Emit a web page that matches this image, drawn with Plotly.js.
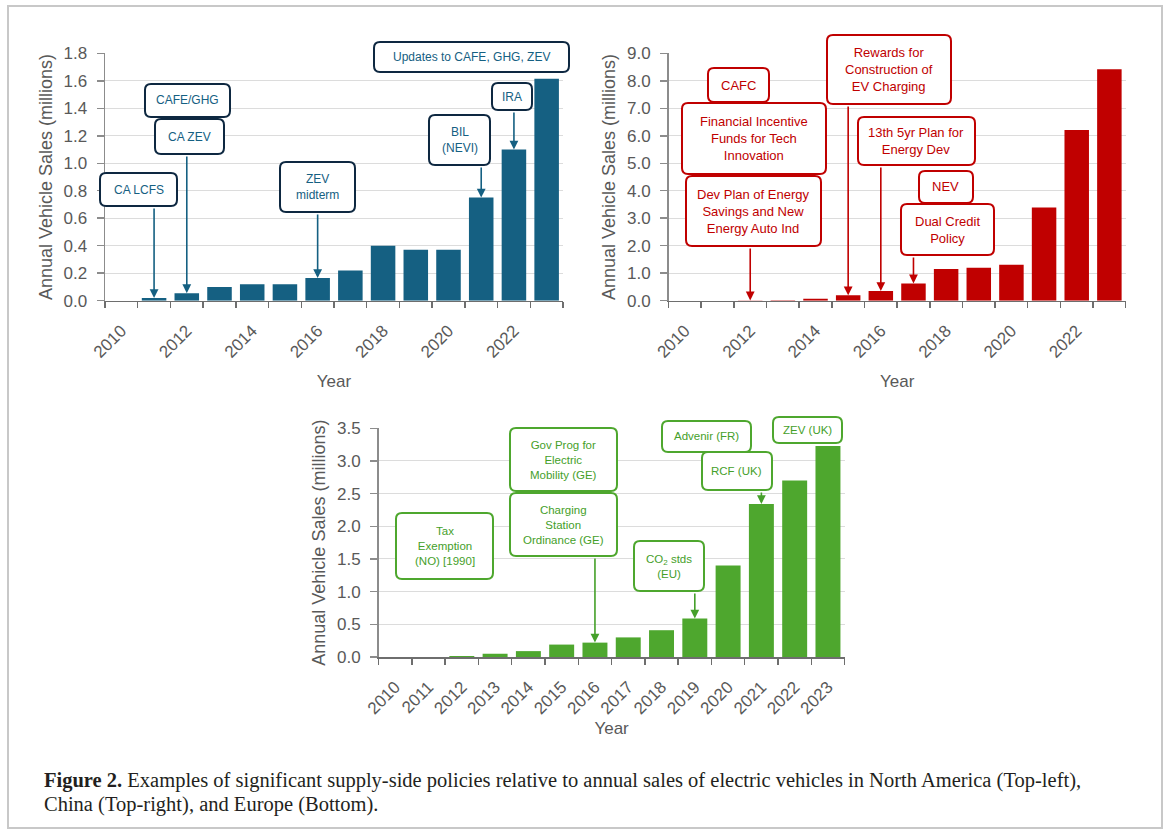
<!DOCTYPE html>
<html><head><meta charset="utf-8">
<script src="https://cdn.plot.ly/plotly-3.0.1.min.js"></script>
<style>html,body{margin:0;padding:0;background:#fff}#chart{width:1168px;height:834px}</style>
</head><body><div id="chart"></div>
<script>
// ---------------- DATA ----------------
const years = [2010,2011,2012,2013,2014,2015,2016,2017,2018,2019,2020,2021,2022,2023];
const usSales     = [0, 0.02, 0.055, 0.10, 0.12, 0.12, 0.165, 0.22, 0.40, 0.37, 0.37, 0.75, 1.10, 1.615];
const chinaSales  = [0, 0, 0.01, 0.02, 0.07, 0.20, 0.35, 0.63, 1.15, 1.20, 1.31, 3.39, 6.21, 8.42];
const europeSales = [0, 0, 0.015, 0.05, 0.09, 0.19, 0.22, 0.30, 0.41, 0.59, 1.40, 2.34, 2.70, 3.23];

const usPolicies = ["CA LCFS","CAFE/GHG","CA ZEV","ZEV<br>midterm","BIL<br>(NEVI)","IRA","Updates to CAFE, GHG, ZEV"];
const usPolicyYears = [2011, null, 2012, 2016, 2021, 2022, null];
const chinaPolicies = ["CAFC","Financial Incentive<br>Funds for Tech<br>Innovation","Dev Plan of Energy<br>Savings and New<br>Energy Auto Ind","Rewards for<br>Construction of<br>EV Charging","13th 5yr Plan for<br>Energy Dev","NEV","Dual Credit<br>Policy"];
const chinaPolicyYears = [null, null, 2012, 2015, 2016, null, 2017];
const europePolicies = ["Tax<br>Exemption<br>(NO) [1990]","Gov Prog for<br>Electric<br>Mobility (GE)","Charging<br>Station<br>Ordinance (GE)","CO<sub>2</sub> stds<br>(EU)","Advenir (FR)","RCF (UK)","ZEV (UK)"];
const europePolicyYears = [null, null, 2016, 2019, null, 2021, null];

const yTitle = "Annual Vehicle Sales (millions)";
const xTitle = "Year";
const captionLines = ["<b>Figure 2.</b> Examples of significant supply-side policies relative to annual sales of electric vehicles in North America (Top-left),",
                      "China (Top-right), and Europe (Bottom)."];

// ---------------- LAYOUT HELPERS ----------------
const W = 1168, H = 834;
const FONT = "Liberation Sans, Arial, sans-serif";
const GRAY = "#595959";

// plot areas in pixels
const panels = [
  {key:'', px:[105,563], py:[300.7,53.3], ymax:1.8, dy:0.2, dtick:2, bar:'#156082', text:'#156082', border:'#0E2841', fs:12, xstand:14,
   sales:usSales, names:usPolicies, pyears:usPolicyYears,
   boxes:[[100,173,177,206],[145,84,230,117],[155,119,224,154],[280,162,355,212],[429,115,490,165],[492,83,532,110],[374,42,569,72]]},
  {key:'2', px:[668.6,1125.7], py:[300.7,53.3], ymax:9, dy:1, dtick:2, bar:'#C00000', text:'#C00000', border:'#C00000', fs:13, xstand:14,
   sales:chinaSales, names:chinaPolicies, pyears:chinaPolicyYears,
   boxes:[[708,68,769,102],[682,103,826,174],[686,176,821,246],[827,35,951,104],[858,117,975,165],[919,171,973,203],[901,204,994,255]]},
  {key:'3', px:[378.6,844.6], py:[657,428.3], ymax:3.5, dy:0.5, dtick:1, bar:'#4EA72E', text:'#45a02a', border:'#4EA72E', fs:11.5, xstand:5,
   sales:europeSales, names:europePolicies, pyears:europePolicyYears,
   boxes:[[396,513,493,579],[510,428,617,491],[510,493,617,556],[634,541,704,591],[662,421,751,452],[702,452,772,490],[773,417,842,443]]}
];

const X = p => +(p/W).toFixed(5);
const Y = p => +(1 - p/H).toFixed(5);

function roundRect(b, r, color, w){
  const [x0,y0,x1,y1] = b;
  const P = (a,c)=> X(a)+','+Y(c);
  const path = 'M '+P(x0+r,y0)+' L '+P(x1-r,y0)+' Q '+P(x1,y0)+' '+P(x1,y0+r)+
    ' L '+P(x1,y1-r)+' Q '+P(x1,y1)+' '+P(x1-r,y1)+' L '+P(x0+r,y1)+' Q '+P(x0,y1)+' '+P(x0,y1-r)+
    ' L '+P(x0,y0+r)+' Q '+P(x0,y0)+' '+P(x0+r,y0)+' Z';
  return {type:'path', xref:'paper', yref:'paper', path, fillcolor:'#ffffff', line:{color, width:w}, layer:'above'};
}

const traces = [], shapes = [], annotations = [];
const layout = {width:W, height:H, margin:{l:0,r:0,t:0,b:0}, showlegend:false,
  paper_bgcolor:'#fff', plot_bgcolor:'#fff', font:{family:FONT, color:GRAY}};

panels.forEach(p => {
  const xa = 'x'+p.key, ya = 'y'+p.key;
  const pxToVal = py => (p.py[0]-py)/(p.py[0]-p.py[1])*p.ymax;
  const pxToYear = px => 2009.5 + (px-p.px[0])/(p.px[1]-p.px[0])*14;
  traces.push({type:'bar', x:years, y:p.sales, xaxis:xa, yaxis:ya, width:0.75,
    marker:{color:p.bar, line:{width:0}}, hoverinfo:'skip'});
  layout['xaxis'+p.key] = {
    domain:[X(p.px[0]), X(p.px[1])], anchor:ya, range:[2009.5,2023.5],
    tickmode:'linear', tick0:2010, dtick:p.dtick, tickangle:-45, ticks:'', ticklabelstandoff:12,
    tickfont:{family:FONT, size:17, color:GRAY},
    showline:true, linecolor:'#6e6e6e', linewidth:1.5, showgrid:false, zeroline:false,
    minor:{tickmode:'linear', tick0:2009.5, dtick:1, ticks:'outside', ticklen:6, tickwidth:1.5, tickcolor:'#6e6e6e', showgrid:false},
    title:{text:xTitle, font:{family:FONT, size:17, color:GRAY}, standoff:p.xstand}, fixedrange:true
  };
  layout['yaxis'+p.key] = {
    domain:[Y(p.py[0]), Y(p.py[1])], anchor:xa, range:[0,p.ymax],
    tickmode:'linear', tick0:0, dtick:p.dy, tickformat:'.1f',
    ticks:'outside', ticklen:7, tickwidth:1.5, tickcolor:'#8c8c8c', ticklabelstandoff:6,
    tickfont:{family:FONT, size:17, color:GRAY},
    showline:true, linecolor:'#8c8c8c', linewidth:1.5, showgrid:true, gridcolor:'#dcdcdc', gridwidth:1, zeroline:false,
    title:{text:yTitle, font:{family:FONT, size:18, color:GRAY}, standoff:6}, fixedrange:true
  };
  p.boxes.forEach((b,i) => {
    shapes.push(roundRect(b, 6, p.border, 2));
    annotations.push({xref:'paper', yref:'paper', x:X((b[0]+b[2])/2), y:Y((b[1]+b[3])/2),
      xanchor:'center', yanchor:'middle', showarrow:false, text:p.names[i], align:'center',
      font:{family:FONT, size:p.fs, color:p.text}});
    const yr = p.pyears[i];
    if (yr !== null) {
      const v = p.sales[years.indexOf(yr)];
      annotations.push({xref:xa, yref:ya, axref:xa, ayref:ya, x:yr, y:v, ax:yr, ay:pxToVal(b[3]+1),
        text:'', showarrow:true, arrowhead:2, arrowsize:1.1, arrowwidth:1.6, arrowcolor:p.text, standoff:0, startstandoff:0});
    }
  });
  if (p.key === '') {
    // arrow off the right edge of the last box
    const b = p.boxes[6];
    annotations.push({xref:xa, yref:ya, axref:xa, ayref:ya, x:pxToYear(b[2]), y:pxToVal(84), ax:pxToYear(b[2]), ay:pxToVal(b[3]),
      text:'', showarrow:true, arrowhead:2, arrowsize:1.1, arrowwidth:1.6, arrowcolor:p.text, standoff:0, startstandoff:0});
  }
});

// figure frame
shapes.unshift({type:'rect', xref:'paper', yref:'paper', x0:X(8), x1:X(1162), y0:Y(6), y1:Y(828),
  line:{color:'#c8c8c8', width:2}, fillcolor:'rgba(0,0,0,0)', layer:'below'});

captionLines.forEach((t,i) => {
  annotations.push({xref:'paper', yref:'paper', x:X(42), y:Y(781 + i*23), xanchor:'left', yanchor:'middle', align:'left',
    showarrow:false, text:t, font:{family:'Liberation Serif, Times New Roman, serif', size:20.5, color:'#231f20'}});
});

layout.shapes = shapes;
layout.annotations = annotations;

Plotly.newPlot('chart', traces, layout, {staticPlot:true, displayModeBar:false});
</script>
</body></html>
